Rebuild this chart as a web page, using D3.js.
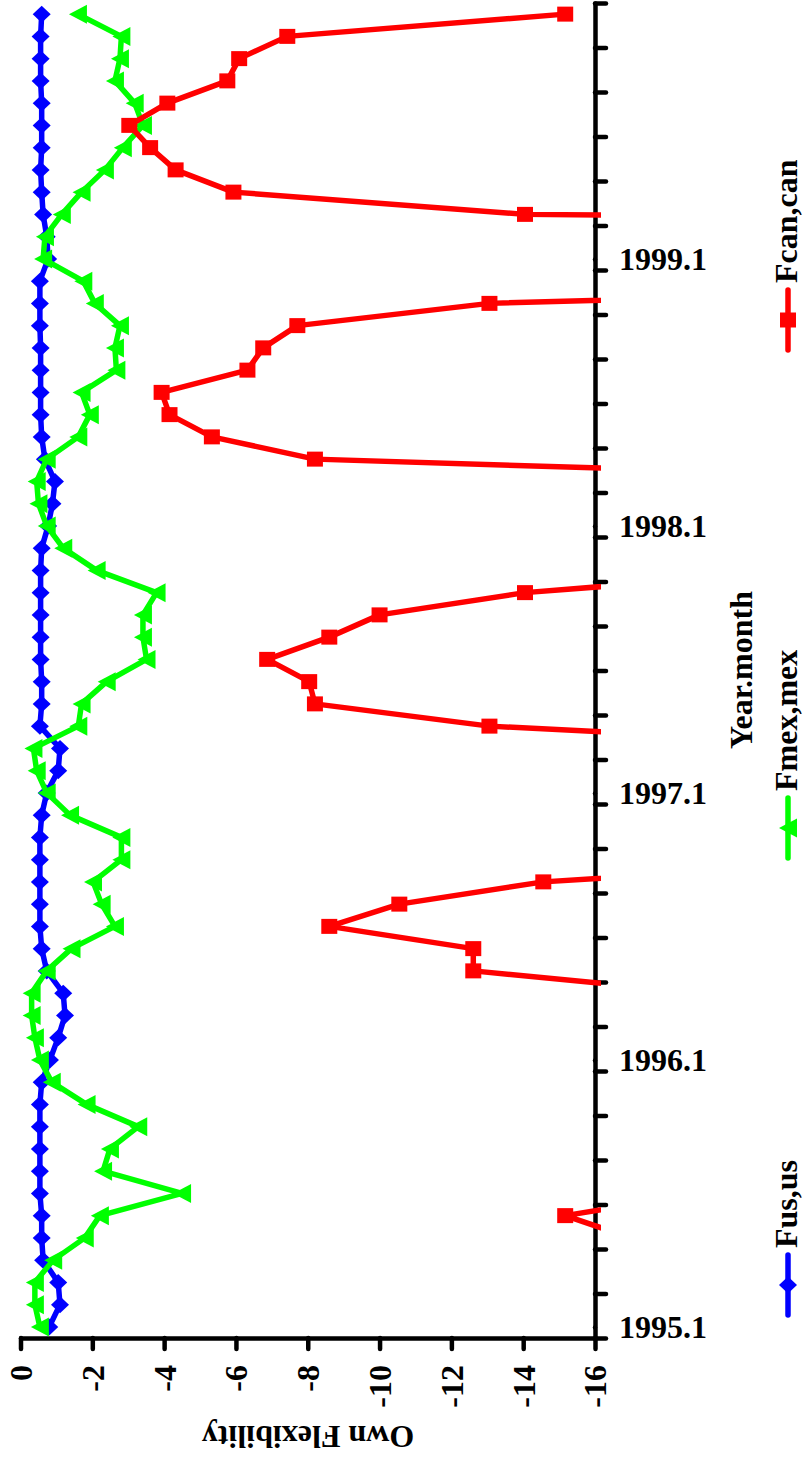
<!DOCTYPE html>
<html>
<head>
<meta charset="utf-8">
<script src="https://cdn.jsdelivr.net/npm/d3@7"></script>
<style>
body { margin: 0; background: #fff; }
svg text { font-family: "Liberation Serif", "Times New Roman", serif; font-weight: bold; font-size: 32px; fill: #000; }
</style>
</head>
<body>
<svg id="chart"></svg>
<script>
var width = 807;
var height = 1462;

// monthly categories 1995.1 .. 1999.12
var months = [];
[1995, 1996, 1997, 1998, 1999].forEach(function (yr) {
    for (var m = 1; m <= 12; m++) months.push(yr + "." + m);
});
var yearLabels = ["1995.1", "1996.1", "1997.1", "1998.1", "1999.1"];
var valueTicks = [0, -2, -4, -6, -8, -10, -12, -14, -16];

var fus = [-0.80, -1.10, -1.05, -0.63, -0.59, -0.59, -0.54, -0.54, -0.54, -0.54,
    -0.54, -0.59, -0.82, -1.05, -1.24, -1.19, -0.73, -0.59, -0.54, -0.54,
    -0.54, -0.54, -0.54, -0.59, -0.73, -1.05, -1.10, -0.54, -0.59, -0.59,
    -0.56, -0.56, -0.56, -0.56, -0.56, -0.59, -0.77, -0.89, -0.96, -0.68,
    -0.59, -0.56, -0.56, -0.56, -0.56, -0.54, -0.54, -0.54, -0.77, -0.73,
    -0.63, -0.59, -0.56, -0.59, -0.59, -0.59, -0.56, -0.56, -0.56, -0.59];

var fmex = [-0.54, -0.40, -0.40, -0.91, -1.79, -2.21, -4.50, -2.30, -2.49, -3.28,
    -1.84, -0.87, -0.54, -0.40, -0.31, -0.31, -0.73, -1.42, -2.63, -2.26,
    -2.02, -2.81, -2.81, -1.38, -0.73, -0.45, -0.36, -1.61, -1.70, -2.40,
    -3.51, -3.41, -3.41, -3.79, -2.12, -1.19, -0.73, -0.50, -0.45, -0.73,
    -1.61, -1.93, -1.70, -2.67, -2.63, -2.77, -2.07, -1.75, -0.63, -0.68,
    -1.15, -1.70, -2.35, -2.85, -3.41, -3.18, -2.63, -2.77, -2.81, -1.60];

// values far below -16 fall off the chart; unreadable months are null
var fcan = [null, null, null, null, -17.0, -15.17, -18.9, null, null, null,
    null, null, null, null, null, -19.0, -12.61, -12.61, -8.60, -10.55,
    -14.56, -24.4, null, null, null, null, -25.3, -13.06, -8.20, -8.04,
    -6.87, -8.60, -10.0, -14.05, -21.9, null, null, null, -28.0, -8.20,
    -5.33, -4.15, -3.93, -6.32, -6.76, -7.71, -13.06, -35.0, null, -80.0,
    -14.05, -5.93, -4.32, -3.61, -3.03, -4.09, -5.76, -6.09, -7.43, -15.17];

var markers = {
    diamond: "M-9,0L0,-8.5L9,0L0,8.5Z",
    triangle: "M-9,0L9,-9.5L9,9.5Z",
    square: "M-8,-7.5H8V7.5H-8Z"
};

var series = [
    { name: "Fus,us", values: fus, color: "#0000ff", marker: "diamond", legendY: 1315 },
    { name: "Fmex,mex", values: fmex, color: "#00ff00", marker: "triangle", legendY: 858 },
    { name: "Fcan,can", values: fcan, color: "#ff0000", marker: "square", legendY: 350 }
];

var svg = d3.select("#chart")
    .attr("width", width)
    .attr("height", height);

svg.append("rect").attr("width", width).attr("height", height).attr("fill", "#fff");

var xScale = d3.scaleLinear()
    .domain([0, -16])
    .range([20.5, 595]);

var yScale = d3.scaleLinear()
    .domain([0, months.length])
    .range([1338, 3]);

svg.append("clipPath")
    .attr("id", "plotClip")
    .append("rect")
    .attr("x", 0)
    .attr("y", 0)
    .attr("width", 601)
    .attr("height", 1345);

// value axis (bottom)
var xAxis = d3.axisBottom(xScale)
    .tickValues(valueTicks)
    .tickFormat(d => String(d))
    .tickSize(11)
    .tickSizeOuter(0);

var gx = svg.append("g")
    .attr("transform", "translate(0,1338)")
    .call(xAxis);
gx.selectAll("text")
    .attr("transform", "rotate(-90)")
    .attr("x", -27)
    .attr("y", 0)
    .attr("dy", "0.34em")
    .attr("text-anchor", "end");

// month axis (right)
var yAxis = d3.axisRight(yScale)
    .tickValues(d3.range(0, months.length + 1, 2))
    .tickFormat("")
    .tickSize(11)
    .tickSizeOuter(0);

var gy = svg.append("g")
    .attr("transform", "translate(595,0)")
    .call(yAxis);

var yLabelAxis = d3.axisRight(yScale)
    .tickValues(yearLabels.map(d => months.indexOf(d) + 0.5))
    .tickFormat((d, i) => yearLabels[i])
    .tickSize(0)
    .tickPadding(24);

var gyl = svg.append("g")
    .attr("transform", "translate(595,0)")
    .call(yLabelAxis);
gyl.select(".domain").remove();

svg.selectAll(".domain, .tick line")
    .attr("stroke", "#000")
    .attr("stroke-width", 4.5)
    .attr("stroke-linecap", "round");
svg.selectAll(".tick text").attr("fill", "#000");
svg.selectAll("g").attr("font-size", null).attr("font-family", null);

// axis titles
svg.append("text")
    .attr("transform", "translate(308,1426) rotate(180)")
    .attr("text-anchor", "middle")
    .text("Own Flexibility");

svg.append("text")
    .attr("transform", "translate(752,670) rotate(-90)")
    .attr("text-anchor", "middle")
    .text("Year.month");

// series
var line = d3.line()
    .defined(d => d != null)
    .x(d => xScale(d))
    .y((d, i) => yScale(i + 0.5));

var plot = svg.append("g").attr("clip-path", "url(#plotClip)");

series.forEach(function (s) {
    plot.append("path")
        .datum(s.values)
        .attr("fill", "none")
        .attr("stroke", s.color)
        .attr("stroke-width", 5.5)
        .attr("stroke-linejoin", "round")
        .attr("d", line);

    plot.selectAll(null)
        .data(s.values.map((v, i) => ({ v: v, i: i })).filter(d => d.v != null))
        .enter()
        .append("path")
        .attr("d", markers[s.marker])
        .attr("fill", s.color)
        .attr("transform", d => "translate(" + xScale(d.v) + "," + yScale(d.i + 0.5) + ")");
});

// legend
series.forEach(function (s) {
    var g = svg.append("g").attr("transform", "translate(788," + s.legendY + ")");
    g.append("line")
        .attr("x1", 0).attr("y1", 0)
        .attr("x2", 0).attr("y2", -60)
        .attr("stroke", s.color)
        .attr("stroke-width", 5.5)
        .attr("stroke-linecap", "round");
    g.append("path")
        .attr("d", markers[s.marker])
        .attr("fill", s.color)
        .attr("transform", "translate(0,-30)");
    g.append("text")
        .attr("transform", "translate(9,-67) rotate(-90)")
        .attr("text-anchor", "start")
        .text(s.name);
});
</script>
</body>
</html>
